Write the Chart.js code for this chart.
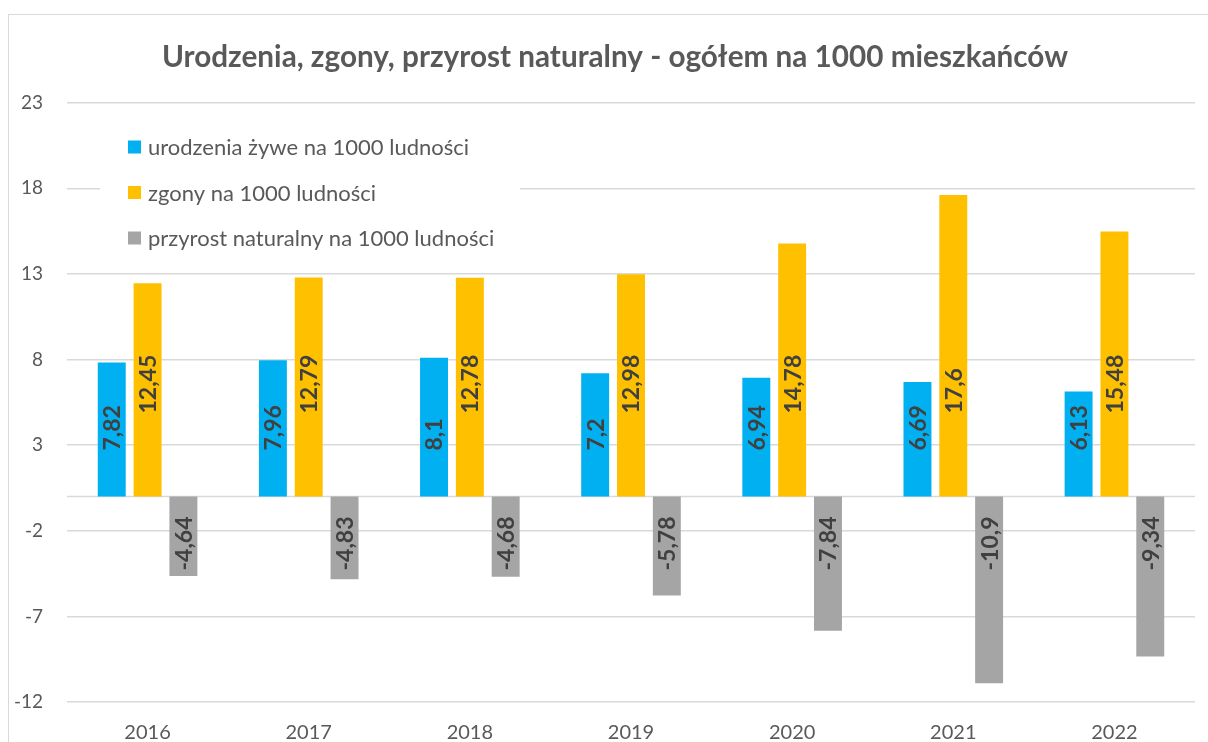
<!DOCTYPE html>
<html lang="pl">
<head>
<meta charset="utf-8">
<title>Urodzenia, zgony, przyrost naturalny</title>
<script src="https://cdn.jsdelivr.net/npm/chart.js@4/dist/chart.umd.min.js"></script>
<style>
  html, body { margin: 0; padding: 0; background: #fff; overflow: hidden; }
  #frame { position: absolute; left: 8px; top: 14px; width: 1214px; height: 800px; border: 1px solid #d9d9d9; }
  #wrap { position: absolute; left: 0; top: 0; }
</style>
</head>
<body>
<div id="frame"></div>
<div id="wrap"><canvas id="chart" width="1230" height="760"></canvas></div>
<script>
const chartTitle = 'Urodzenia, zgony, przyrost naturalny - ogółem na 1000 mieszkańców';
const years = ['2016', '2017', '2018', '2019', '2020', '2021', '2022'];
const births = [7.82, 7.96, 8.1, 7.2, 6.94, 6.69, 6.13];
const deaths = [12.45, 12.79, 12.78, 12.98, 14.78, 17.6, 15.48];
const growth = [-4.64, -4.83, -4.68, -5.78, -7.84, -10.9, -9.34];
const seriesNames = [
    'urodzenia żywe na 1000 ludności',
    'zgony na 1000 ludności',
    'przyrost naturalny na 1000 ludności',
];
const yMin = -12;
const yMax = 23;
const yStep = 5;

const FONT = 'Lato, "Open Sans", sans-serif';
const TEXT = '#595959';
const GRID = '#d9d9d9';
const COLORS = ['#00b0f0', '#ffc000', '#a5a5a5'];

// decimal comma, as in the source
const fmt = v => String(v).replace('.', ',');

// Excel-style axis line at zero
const zeroLine = {
    id: 'zeroLine',
    beforeDatasetsDraw(chart) {
        const { ctx, chartArea } = chart;
        const y = chart.scales.y.getPixelForValue(0);
        ctx.save();
        ctx.strokeStyle = GRID;
        ctx.lineWidth = 1.5;
        ctx.beginPath();
        ctx.moveTo(chartArea.left, y);
        ctx.lineTo(chartArea.right, y);
        ctx.stroke();
        ctx.restore();
    },
};

// legend drawn inside the plot area, on a white box over the grid
const insideLegend = {
    id: 'insideLegend',
    beforeDatasetsDraw(chart, args, opts) {
        const { ctx } = chart;
        ctx.save();
        ctx.fillStyle = '#fff';
        ctx.fillRect(opts.x, opts.y, opts.width, opts.height);
        ctx.font = `${opts.size}px ${FONT}`;
        ctx.textBaseline = 'middle';
        ctx.textAlign = 'left';
        chart.data.datasets.forEach((ds, i) => {
            const cy = opts.firstRow + i * opts.rowGap;
            ctx.fillStyle = ds.backgroundColor;
            ctx.fillRect(opts.boxX, cy - opts.box / 2, opts.box, opts.box);
            ctx.fillStyle = TEXT;
            ctx.fillText(ds.label, opts.textX, cy + 1);
        });
        ctx.restore();
    },
};

// rotated value labels inside the bars
const barLabels = {
    id: 'barLabels',
    afterDatasetsDraw(chart, args, opts) {
        const { ctx } = chart;
        const base = chart.scales.y.getPixelForValue(0);
        ctx.save();
        ctx.font = `bold ${opts.size}px ${FONT}`;
        ctx.fillStyle = opts.color;
        ctx.textBaseline = 'middle';
        chart.data.datasets.forEach((ds, i) => {
            const place = opts.place[i];
            chart.getDatasetMeta(i).data.forEach((bar, j) => {
                const v = ds.data[j];
                const y = v >= 0 ? base - place.offset : base + place.offset;
                ctx.save();
                ctx.translate(bar.x + 1, y);
                ctx.rotate(-Math.PI / 2);
                ctx.textAlign = place.align;
                ctx.fillText(fmt(v), 0, 0);
                ctx.restore();
            });
        });
        ctx.restore();
    },
};

new Chart(document.getElementById('chart'), {
    type: 'bar',
    data: {
        labels: years,
        datasets: [
            { label: seriesNames[0], data: births, backgroundColor: COLORS[0] },
            { label: seriesNames[1], data: deaths, backgroundColor: COLORS[1] },
            { label: seriesNames[2], data: growth, backgroundColor: COLORS[2] },
        ],
    },
    plugins: [zeroLine, insideLegend, barLabels],
    options: {
        responsive: false,
        animation: false,
        datasets: {
            bar: { categoryPercentage: 0.667, barPercentage: 0.78, borderWidth: 0 },
        },
        layout: { padding: 0 },
        plugins: {
            legend: { display: false },
            tooltip: { enabled: false },
            title: {
                display: true,
                text: chartTitle,
                color: TEXT,
                font: { family: FONT, size: 29.7, weight: 'bold' },
                padding: { top: 40, bottom: 27 },
            },
            insideLegend: {
                x: 100, y: 120, width: 420, height: 136,
                boxX: 128, textX: 148, box: 13,
                firstRow: 147, rowGap: 45.5, size: 22,
            },
            barLabels: {
                size: 23,
                color: '#404040',
                place: [
                    { align: 'left', offset: 46 },
                    { align: 'left', offset: 83 },
                    { align: 'right', offset: 20 },
                ],
            },
        },
        scales: {
            x: {
                grid: { display: false, drawTicks: false },
                border: { display: false },
                ticks: { color: TEXT, font: { family: FONT, size: 20 }, padding: 19 },
                afterFit: s => { s.height = 58; },
            },
            y: {
                min: yMin,
                max: yMax,
                grid: { color: GRID, lineWidth: 1.5, drawTicks: false },
                border: { display: false },
                ticks: { stepSize: yStep, color: TEXT, font: { family: FONT, size: 19 }, padding: 24 },
                afterFit: s => { s.width = 67; },
            },
            // empty right-hand margin, so the title stays centred on the whole frame
            yRight: {
                position: 'right',
                grid: { display: false, drawTicks: false },
                border: { display: false },
                ticks: { display: false },
                afterFit: s => { s.width = 35; },
            },
        },
    },
});
</script>
</body>
</html>
